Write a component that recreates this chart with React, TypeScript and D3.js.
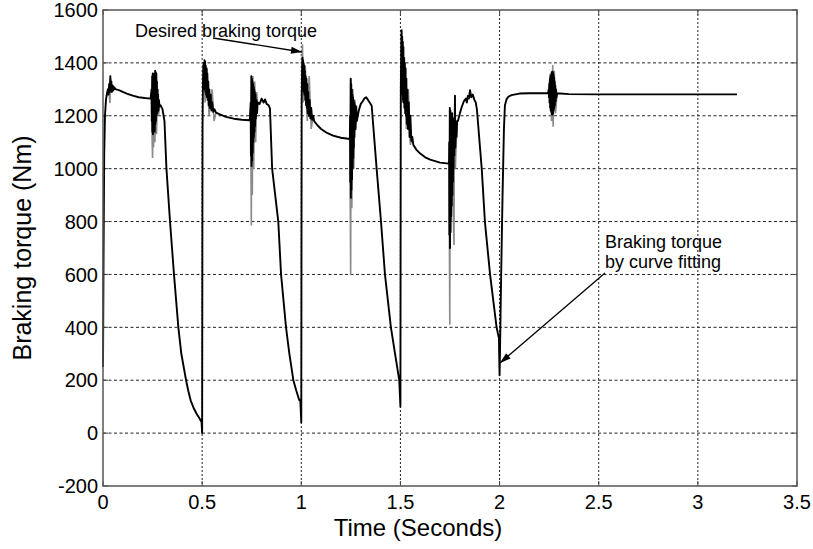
import React from "react";
import * as d3 from "d3";

type P = [number, number];

// Axis ticks
const xTicks = [0, 0.5, 1, 1.5, 2, 2.5, 3, 3.5];
const xTickLabels = ["0", "0.5", "1", "1.5", "2", "2.5", "3", "3.5"];
const yTicks = [-200, 0, 200, 400, 600, 800, 1000, 1200, 1400, 1600];
const yTickLabels = ["-200", "0", "200", "400", "600", "800", "1000", "1200", "1400", "1600"];

// Braking torque by curve fitting (black): [time s, torque Nm]
const cycle1: P[] = [
  [0, 250], [0.003, 700], [0.006, 1050], [0.01, 1200], [0.015, 1260], [0.02, 1285],
  [0.025, 1300], [0.028, 1280], [0.031, 1320], [0.034, 1290], [0.037, 1350], [0.039, 1295],
  [0.042, 1330], [0.045, 1290], [0.048, 1315], [0.051, 1295], [0.054, 1310], [0.057, 1300],
  [0.06, 1305], [0.065, 1300], [0.08, 1297], [0.1, 1290], [0.12, 1284], [0.15, 1276],
  [0.18, 1270], [0.21, 1267], [0.24, 1265],
  [0.245, 1300], [0.246, 1180], [0.248, 1350], [0.249, 1140], [0.251, 1360], [0.252, 1130],
  [0.254, 1340], [0.255, 1160], [0.257, 1350], [0.258, 1150], [0.26, 1360], [0.261, 1140],
  [0.263, 1370], [0.264, 1170], [0.266, 1365], [0.267, 1180], [0.269, 1360], [0.27, 1200],
  [0.272, 1330], [0.273, 1210], [0.275, 1300], [0.276, 1215], [0.278, 1280], [0.279, 1220],
  [0.282, 1260], [0.285, 1235],
  [0.29, 1240], [0.3, 1225], [0.31, 1180], [0.32, 1000], [0.338, 800], [0.358, 600],
  [0.38, 400], [0.395, 300], [0.419, 200], [0.43, 160], [0.442, 124], [0.457, 95],
  [0.472, 73], [0.487, 55], [0.497, 42], [0.5, 0],
];
const cycle2: P[] = [
  [0.501, 600], [0.502, 1150], [0.504, 1320],
  [0.506, 1390], [0.507, 1330], [0.509, 1400], [0.51, 1310], [0.512, 1410], [0.513, 1300],
  [0.515, 1405], [0.516, 1290], [0.518, 1390], [0.52, 1280], [0.522, 1380], [0.524, 1270],
  [0.526, 1360], [0.528, 1260], [0.531, 1330], [0.533, 1240], [0.536, 1300], [0.539, 1230],
  [0.543, 1280], [0.547, 1220], [0.551, 1250], [0.556, 1215], [0.562, 1225], [0.57, 1212],
  [0.59, 1205], [0.62, 1196], [0.66, 1189], [0.7, 1185], [0.74, 1183],
  [0.745, 1250], [0.746, 1050], [0.748, 1350], [0.749, 1010], [0.751, 1340], [0.752, 1030],
  [0.754, 1330], [0.755, 1060], [0.757, 1320], [0.758, 1100], [0.76, 1310], [0.761, 1120],
  [0.763, 1300], [0.764, 1140], [0.766, 1290], [0.767, 1160], [0.769, 1280], [0.771, 1190],
  [0.774, 1260], [0.777, 1210], [0.78, 1250],
  [0.79, 1245], [0.8, 1265], [0.81, 1250], [0.817, 1262], [0.825, 1245], [0.835, 1240],
  [0.842, 1228], [0.853, 1000], [0.884, 800], [0.898, 600], [0.923, 400], [0.94, 300],
  [0.96, 200], [0.975, 160], [0.99, 124], [0.995, 124], [1.0, 40],
];
const cycle3: P[] = [
  [1.001, 700], [1.002, 1250], [1.004, 1380],
  [1.006, 1420], [1.007, 1320], [1.009, 1410], [1.01, 1300], [1.012, 1400], [1.013, 1290],
  [1.015, 1390], [1.016, 1280], [1.018, 1370], [1.02, 1260], [1.022, 1350], [1.024, 1240],
  [1.026, 1340], [1.028, 1230], [1.03, 1320], [1.032, 1210], [1.035, 1290], [1.038, 1200],
  [1.042, 1260], [1.046, 1190], [1.05, 1230], [1.055, 1185], [1.06, 1200], [1.065, 1180],
  [1.08, 1165], [1.1, 1150], [1.13, 1135], [1.16, 1125], [1.2, 1117], [1.245, 1112],
  [1.246, 1200], [1.247, 950], [1.249, 1340], [1.25, 890], [1.252, 1320], [1.253, 920],
  [1.255, 1300], [1.256, 960], [1.258, 1280], [1.259, 1000], [1.261, 1270], [1.262, 1040],
  [1.264, 1260], [1.265, 1080], [1.267, 1250], [1.268, 1120], [1.271, 1240], [1.274, 1150],
  [1.277, 1235], [1.28, 1180],
  [1.29, 1220], [1.3, 1245], [1.31, 1255], [1.318, 1265], [1.327, 1270], [1.335, 1262],
  [1.345, 1250], [1.355, 1238], [1.38, 1000], [1.402, 800], [1.422, 600], [1.452, 400],
  [1.473, 300], [1.494, 200], [1.5, 100],
];
const cycle4: P[] = [
  [1.501, 800], [1.502, 1300], [1.504, 1450],
  [1.506, 1524], [1.507, 1300], [1.509, 1500], [1.51, 1280], [1.512, 1480], [1.513, 1260],
  [1.515, 1460], [1.516, 1250], [1.518, 1420], [1.52, 1230], [1.522, 1400], [1.524, 1210],
  [1.526, 1380], [1.528, 1200], [1.53, 1340], [1.532, 1170], [1.535, 1300], [1.538, 1150],
  [1.542, 1250], [1.546, 1120], [1.55, 1200], [1.555, 1105], [1.56, 1120], [1.565, 1090],
  [1.58, 1072], [1.6, 1057], [1.625, 1043], [1.65, 1034], [1.7, 1023], [1.745, 1019],
  [1.746, 1100], [1.747, 750], [1.749, 1230], [1.75, 700], [1.752, 1220], [1.753, 760],
  [1.755, 1200], [1.756, 820], [1.758, 1180], [1.759, 860], [1.761, 1210], [1.762, 900],
  [1.764, 1190], [1.765, 950], [1.767, 1190], [1.768, 1000], [1.77, 1180], [1.772, 1050],
  [1.775, 1276], [1.777, 1080], [1.78, 1170], [1.783, 1120], [1.786, 1180],
  [1.79, 1180], [1.8, 1210], [1.81, 1235], [1.82, 1255], [1.83, 1265], [1.835, 1250],
  [1.84, 1275], [1.845, 1265], [1.851, 1297], [1.857, 1270], [1.865, 1280], [1.872, 1262],
  [1.88, 1250], [1.886, 1222], [1.91, 1000], [1.926, 800], [1.952, 600], [1.985, 400],
  [1.997, 358], [1.998, 300], [2.0, 219],
];
const settle: P[] = [
  [2.002, 300], [2.008, 600], [2.015, 900], [2.022, 1150], [2.027, 1240], [2.035, 1262],
  [2.044, 1272], [2.06, 1278], [2.1, 1284], [2.15, 1285], [2.2, 1285], [2.245, 1285],
  [2.248, 1300], [2.249, 1270], [2.251, 1320], [2.252, 1250], [2.254, 1340], [2.255, 1230],
  [2.257, 1350], [2.258, 1220], [2.26, 1355], [2.261, 1215], [2.263, 1365], [2.264, 1205],
  [2.266, 1367], [2.267, 1205], [2.269, 1365], [2.27, 1210], [2.272, 1355], [2.273, 1220],
  [2.275, 1345], [2.276, 1230], [2.278, 1330], [2.279, 1240], [2.281, 1315], [2.283, 1255],
  [2.285, 1300], [2.287, 1270], [2.29, 1285],
  [2.35, 1282], [2.5, 1281], [2.8, 1281], [3.197, 1281],
];

// Desired braking torque (gray), visible where its spikes exceed the black curve
const gray1: P[] = [[0.03, 1300], [0.035, 1248], [0.038, 1340], [0.045, 1290]];
const gray2: P[] = [
  [0.245, 1265], [0.248, 1100], [0.25, 1040], [0.252, 1300], [0.255, 1080], [0.258, 1340],
  [0.262, 1100], [0.266, 1350], [0.27, 1130], [0.275, 1300], [0.28, 1200], [0.285, 1235],
];
const gray3: P[] = [
  [0.505, 1400], [0.515, 1250], [0.525, 1380], [0.535, 1200], [0.55, 1300], [0.56, 1180], [0.57, 1212],
];
const gray4: P[] = [
  [0.745, 1183], [0.748, 785], [0.75, 1300], [0.753, 900], [0.756, 1350], [0.76, 1000],
  [0.765, 1330], [0.77, 1100], [0.775, 1290], [0.78, 1240],
];
const gray5: P[] = [
  [1.004, 1380], [1.006, 1470], [1.01, 1250], [1.02, 1390], [1.03, 1180], [1.04, 1350],
  [1.05, 1150], [1.06, 1200],
];
const gray6: P[] = [
  [1.245, 1112], [1.249, 600], [1.251, 1340], [1.255, 850], [1.26, 1300], [1.265, 1000],
  [1.27, 1260], [1.28, 1180],
];
const gray7: P[] = [
  [1.504, 1450], [1.506, 1500], [1.51, 1250], [1.52, 1420], [1.53, 1150], [1.54, 1300],
  [1.55, 1090], [1.56, 1120],
];
const gray8: P[] = [
  [1.745, 1019], [1.749, 410], [1.751, 1220], [1.755, 800], [1.76, 1150], [1.765, 900],
  [1.77, 711], [1.772, 1180], [1.777, 1000], [1.785, 1180],
];
const gray9: P[] = [
  [2.246, 1285], [2.256, 1360], [2.262, 1180], [2.268, 1392], [2.27, 1159], [2.276, 1370],
  [2.282, 1210], [2.29, 1285],
];

// Annotation texts
const annotDesired = ["Desired braking torque"];
const annotFit = ["Braking torque", "by curve fitting"];

export default function App() {
  const W = 813, H = 549;
  const m = { left: 103, right: 797, top: 10, bottom: 486 };
  const x = d3.scaleLinear().domain([0, 3.5]).range([m.left, m.right]);
  const y = d3.scaleLinear().domain([-200, 1600]).range([m.bottom, m.top]);
  const line = d3.line<P>().x((d) => x(d[0])).y((d) => y(d[1]));

  const blackSegs = [cycle1, cycle2, cycle3, cycle4, settle];
  const blackAll = blackSegs.flat();
  const grays = [gray1, gray2, gray3, gray4, gray5, gray6, gray7, gray8, gray9];
  const font = "Arial, 'Liberation Sans', Helvetica, sans-serif";

  // arrows (tail -> head), placed in data coordinates
  const arr1 = { x1: x.invert(213), y1: y.invert(38), x2: x.invert(302), y2: y.invert(52) };
  const arr2 = { x1: x.invert(605), y1: y.invert(273), x2: x.invert(500), y2: y.invert(363) };

  const arrowHead = (a: typeof arr1) => {
    const X1 = x(a.x1), Y1 = y(a.y1), X2 = x(a.x2), Y2 = y(a.y2);
    const ang = Math.atan2(Y2 - Y1, X2 - X1);
    const L = 11, w = 3.5;
    const bx = X2 - L * Math.cos(ang), by = Y2 - L * Math.sin(ang);
    const px = -Math.sin(ang) * w, py = Math.cos(ang) * w;
    return `M${X2},${Y2}L${bx + px},${by + py}L${bx - px},${by - py}Z`;
  };

  return (
    <>
      <style>{`body{margin:0}`}</style>
      <svg width={W} height={H} style={{ display: "block", background: "#fff" }}>
        <rect x={0} y={0} width={W} height={H} fill="#fff" />
        {/* grid */}
        {xTicks.slice(1, -1).map((t) => (
          <line key={"gx" + t} x1={x(t)} x2={x(t)} y1={m.top} y2={m.bottom}
            stroke="#222" strokeWidth={1} strokeDasharray="2,2" />
        ))}
        {yTicks.slice(1, -1).map((t) => (
          <line key={"gy" + t} x1={m.left} x2={m.right} y1={y(t)} y2={y(t)}
            stroke="#222" strokeWidth={1} strokeDasharray="3,2.5" />
        ))}
        {/* ticks inside */}
        {xTicks.map((t) => (
          <g key={"tx" + t}>
            <line x1={x(t)} x2={x(t)} y1={m.bottom} y2={m.bottom - 5} stroke="#444" />
            <line x1={x(t)} x2={x(t)} y1={m.top} y2={m.top + 5} stroke="#444" />
          </g>
        ))}
        {yTicks.map((t) => (
          <g key={"ty" + t}>
            <line x1={m.left} x2={m.left + 5} y1={y(t)} y2={y(t)} stroke="#444" />
            <line x1={m.right} x2={m.right - 5} y1={y(t)} y2={y(t)} stroke="#444" />
          </g>
        ))}
        {/* data */}
        {grays.map((g, i) => (
          <path key={"g" + i} d={line(g) || ""} fill="none" stroke="#8a8a8a" strokeWidth={1.6} />
        ))}
        <path d={line(blackAll) || ""} fill="none" stroke="#000" strokeWidth={1.9} strokeLinejoin="round" />
        {/* frame */}
        <rect x={m.left} y={m.top} width={m.right - m.left} height={m.bottom - m.top}
          fill="none" stroke="#555" strokeWidth={1.5} />
        {/* tick labels */}
        {xTicks.map((t, i) => (
          <text key={"lx" + t} x={x(t)} y={509} textAnchor="middle" fontFamily={font} fontSize={20} fill="#000">
            {xTickLabels[i]}
          </text>
        ))}
        {yTicks.map((t, i) => (
          <text key={"ly" + t} x={98} y={y(t)} dy="0.36em" textAnchor="end" fontFamily={font} fontSize={20} fill="#000">
            {yTickLabels[i]}
          </text>
        ))}
        {/* axis labels */}
        <text x={418} y={536} textAnchor="middle" fontFamily={font} fontSize={24} fill="#000">
          Time (Seconds)
        </text>
        <text transform={`translate(31,${(m.top + m.bottom) / 2}) rotate(-90)`} textAnchor="middle"
          fontFamily={font} fontSize={25} fill="#000">
          Braking torque (Nm)
        </text>
        {/* annotations */}
        <text x={135} y={37} fontFamily={font} fontSize={18} fill="#000">{annotDesired[0]}</text>
        <line x1={x(arr1.x1)} y1={y(arr1.y1)} x2={x(arr1.x2)} y2={y(arr1.y2)} stroke="#000" strokeWidth={1.3} />
        <path d={arrowHead(arr1)} fill="#000" />
        <text x={605} y={248} fontFamily={font} fontSize={18} fill="#000">{annotFit[0]}</text>
        <text x={605} y={268} fontFamily={font} fontSize={18} fill="#000">{annotFit[1]}</text>
        <line x1={x(arr2.x1)} y1={y(arr2.y1)} x2={x(arr2.x2)} y2={y(arr2.y2)} stroke="#000" strokeWidth={1.3} />
        <path d={arrowHead(arr2)} fill="#000" />
      </svg>
    </>
  );
}
